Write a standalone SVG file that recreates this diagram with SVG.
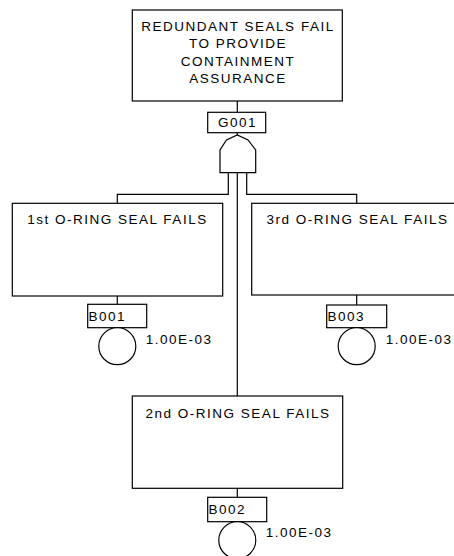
<svg xmlns="http://www.w3.org/2000/svg" width="454" height="556" viewBox="0 0 454 556">
<style>
.box{fill:#fff;stroke:#000;stroke-width:1.2}
.ln{fill:none;stroke:#000;stroke-width:1.2}
.t{font-family:"Liberation Sans",Arial,sans-serif;font-size:13.5px;letter-spacing:1.5px;fill:#000}
.c{text-anchor:middle}
</style>
<rect width="454" height="556" fill="#fff"/>
<g id="connectors">
<path class="ln" d="M237.3,101 V112.3 M237.3,132.7 V135"/>
<path class="ln" d="M228.3,173 V194.3 H117.3 V203.3"/>
<path class="ln" d="M246.7,173 V194.3 H356.7 V203.3"/>
<path class="ln" d="M237.3,173 V396"/>
<path class="ln" d="M117.3,296 V304.3"/>
<path class="ln" d="M356.7,295 V305"/>
<path class="ln" d="M237.3,488.3 V497.3"/>
</g>
<g id="TOP">
<rect class="box" x="132.3" y="10" width="210" height="91"/>
<text class="t c" x="238" y="30.7">REDUNDANT SEALS FAIL</text>
<text class="t c" x="238" y="48.3">TO PROVIDE</text>
<text class="t c" x="238" y="65.7">CONTAINMENT</text>
<text class="t c" x="238" y="83.3">ASSURANCE</text>
</g>
<g id="G001">
<rect class="box" x="207.7" y="112.3" width="58" height="20.4"/>
<text class="t c" x="237.5" y="127">G001</text>
<path class="box" d="M220,172.7 V150 L226.5,140 L237.3,135 L248,140 L255.7,150 V172.7 Z"/>
</g>
<g id="E1">
<rect class="box" x="12.3" y="203.3" width="210.4" height="92.7"/>
<text class="t c" x="117.5" y="224.3">1st O-RING SEAL FAILS</text>
</g>
<g id="B001">
<rect class="box" x="87.7" y="304.3" width="59" height="23.4"/>
<text class="t" x="88.5" y="320.5">B001</text>
<circle class="box" cx="117.3" cy="346.2" r="18.5"/>
<text class="t" x="145.7" y="344.3">1.00E-03</text>
</g>
<g id="E3">
<rect class="box" x="251.7" y="203.3" width="210" height="91.7"/>
<text class="t c" x="357.5" y="224.3">3rd O-RING SEAL FAILS</text>
</g>
<g id="B003">
<rect class="box" x="326.7" y="305" width="60" height="22.7"/>
<text class="t" x="327.5" y="320.5">B003</text>
<circle class="box" cx="356.7" cy="346.2" r="18.5"/>
<text class="t" x="385.7" y="344.3">1.00E-03</text>
</g>
<g id="E2">
<rect class="box" x="132.3" y="396" width="210.4" height="92.3"/>
<text class="t c" x="238" y="417.7">2nd O-RING SEAL FAILS</text>
</g>
<g id="B002">
<rect class="box" x="207.7" y="497.3" width="59" height="24.4"/>
<text class="t" x="208.5" y="514">B002</text>
<circle class="box" cx="237.3" cy="540.2" r="18.5"/>
<text class="t" x="265.7" y="537.3">1.00E-03</text>
</g>
</svg>
